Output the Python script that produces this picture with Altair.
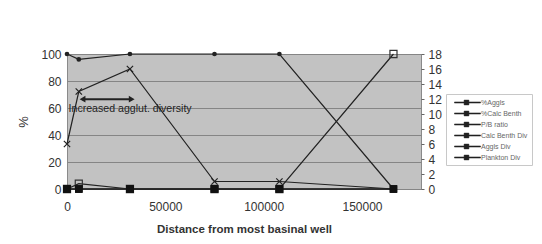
import altair as alt
import pandas as pd

# ---- data ----
distance = [0, 6000, 32000, 75000, 108000, 166000]
pct_aggls = [100, 96, 100, 100, 100, 0]
pct_calc_benth = [0, 4, 0, 0, 0, 100]
pb_ratio = [0, 0, 0, 0, 0, 0]
calc_benth_div = [0, 0, 0, 0, 0, 0]
aggls_div = [6, 13, 16, 1, 1, 0]
plankton_div = [0, 0, 0, 0, 0, 0]

series_names = ["%Aggls", "%Calc Benth", "P/B ratio", "Calc Benth Div", "Aggls Div", "Plankton Div"]
x_ticks = [0, 50000, 100000, 150000]
left_ticks = [0, 20, 40, 60, 80, 100]
right_ticks = [0, 2, 4, 6, 8, 10, 12, 14, 16, 18]

annot_text = ["Increased agglut. diversity"]
annot_x = [800]
annot_y = [59]
arrow_x = [7900, 32900]
arrow_y = [66.5, 66.5]

FONT = "Liberation Sans"
DARK = "#222222"

def long(names, cols):
    rows = []
    for n, vals in zip(names, cols):
        for d, v in zip(distance, vals):
            rows.append({"series": n, "distance": d, "value": v})
    return pd.DataFrame(rows)

left_df = long(series_names[:2], [pct_aggls, pct_calc_benth])
right_df = long(series_names[2:], [pb_ratio, calc_benth_div, aggls_div, plankton_div])
annot_df = pd.DataFrame({"distance": annot_x, "value": annot_y, "label": annot_text})
arrow_df = pd.DataFrame({"distance": arrow_x, "value": arrow_y, "end": ["l", "r"]})

x_enc = alt.X("distance:Q",
              scale=alt.Scale(domain=[0, 180000], nice=False, zero=False),
              axis=alt.Axis(values=x_ticks, format="d", title="Distance from most basinal well",
                            ticks=False, domain=False, grid=False, labelPadding=12,
                            labelFontSize=12, labelColor="#333", labelFont=FONT,
                            titleFont=FONT, titleFontSize=11.5, titleFontWeight="bold",
                            titleColor="#333", titlePadding=11, labelFlush=False))

yl_enc = alt.Y("value:Q",
               scale=alt.Scale(domain=[0, 100], nice=False),
               axis=alt.Axis(orient="left", values=left_ticks, title="%", grid=True,
                             gridColor="#858585", gridWidth=1, ticks=False, domain=False,
                             labelPadding=6, labelFontSize=12, labelColor="#333", labelFont=FONT,
                             titleFont=FONT, titleFontSize=13, titleFontWeight="normal",
                             titleColor="#333", titlePadding=10))

yr_enc = alt.Y("value:Q",
               scale=alt.Scale(domain=[0, 18], nice=False),
               axis=alt.Axis(orient="right", values=right_ticks, title=None, grid=False,
                             ticks=True, tickSize=3, tickColor="#666", domain=False,
                             labelPadding=4, labelFontSize=12, labelColor="#333", labelFont=FONT))

legend = alt.Legend(
    orient="none", legendX=379, legendY=40, title=None,
    symbolType="M0,-0.14H6.5V0.14H0Z M2.4,-0.6H3.6V0.6H2.4Z",
    symbolSize=64, symbolStrokeWidth=0.5, symbolFillColor=DARK, symbolStrokeColor=DARK,
    labelFontSize=7, labelColor="#666", labelFont=FONT, labelOffset=22,
    rowPadding=3, padding=4, strokeColor="#c8c8c8", fillColor="white",
)
color_enc = alt.Color("series:N", scale=alt.Scale(domain=series_names, range=[DARK] * 6),
                      legend=legend)

# left-axis layers
left_lines = alt.Chart(left_df).mark_line(strokeWidth=1.2).encode(
    x=x_enc, y=yl_enc, color=color_enc, detail="series:N")
aggls_pts = alt.Chart(left_df).transform_filter(alt.datum.series == "%Aggls").mark_point(
    shape="circle", filled=True, size=22, color=DARK, opacity=1).encode(x=x_enc, y=yl_enc)
calc_pts = alt.Chart(left_df).transform_filter(alt.datum.series == "%Calc Benth").mark_point(
    shape="square", filled=False, size=50, color="#333", strokeWidth=1.2, opacity=1
).encode(x=x_enc, y=yl_enc)
annot = alt.Chart(annot_df).mark_text(align="left", baseline="middle", font=FONT,
                                      fontSize=10.6, color=DARK).encode(
    x=x_enc, y=yl_enc, text="label:N")
arrow_line = alt.Chart(arrow_df).mark_line(strokeWidth=2, color=DARK).encode(x=x_enc, y=yl_enc)
arrow_heads = alt.Chart(arrow_df).mark_point(filled=True, size=45, color=DARK, opacity=1).encode(
    x=x_enc, y=yl_enc,
    shape=alt.Shape("end:N", scale=alt.Scale(domain=["l", "r"], range=["triangle-left", "triangle-right"]),
                    legend=None))

left_layer = alt.layer(left_lines, aggls_pts, calc_pts, arrow_line, arrow_heads, annot)

# right-axis layers
right_lines = alt.Chart(right_df).mark_line(strokeWidth=1.2).encode(
    x=x_enc, y=yr_enc, color=color_enc, detail="series:N")
div_pts = alt.Chart(right_df).transform_filter(alt.datum.series == "Aggls Div").mark_point(
    shape="M-1,-1L1,1M-1,1L1,-1", filled=False, size=40, color=DARK, strokeWidth=1.2, opacity=1
).encode(x=x_enc, y=yr_enc)
zero_pts = alt.Chart(right_df).transform_filter(alt.datum.series != "Aggls Div").mark_point(
    shape="square", filled=True, size=55, color="#111", opacity=1).encode(x=x_enc, y=yr_enc)

right_layer = alt.layer(right_lines, div_pts, zero_pts)

chart = alt.layer(left_layer, right_layer).resolve_scale(y="independent").properties(
    width=354, height=135,
    autosize=alt.AutoSizeParams(type="none"),
    padding={"left": 59, "top": 46, "right": 113, "bottom": 50},
    background="white",
).configure_view(fill="#c2c2c2", stroke="#8a8a8a", strokeWidth=1)

chart.save("out.html", embed_options={"renderer": "svg", "actions": False})
